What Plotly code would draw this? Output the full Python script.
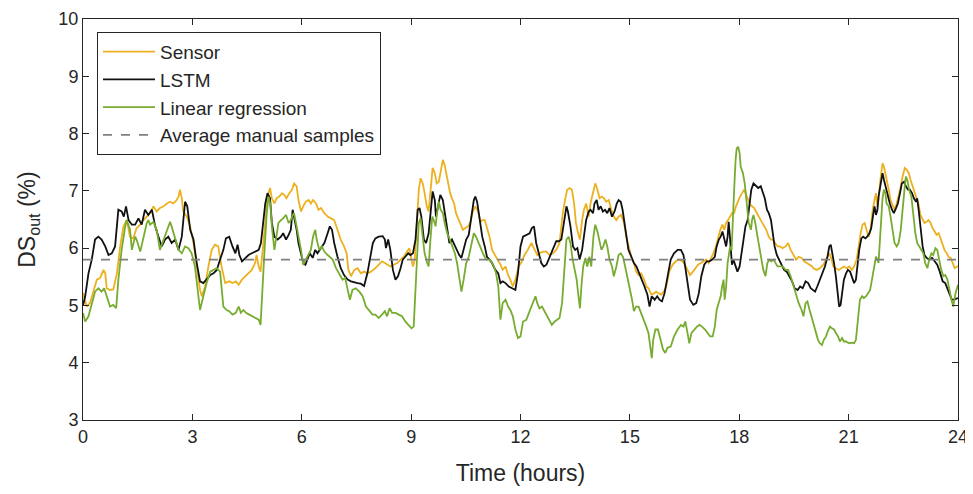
import plotly.graph_objects as go

# ---------------- data ----------------
t_sensor = [0, 0.10, 0.19, 0.29, 0.38, 0.47, 0.56, 0.61, 0.65, 0.74, 0.83, 0.93, 1.02, 1.11, 1.20, 1.29, 1.38, 1.47, 1.57, 1.66,
            1.75, 1.84, 1.93, 2.02, 2.11, 2.21, 2.30, 2.39, 2.48, 2.57, 2.62, 2.66, 2.71, 2.75, 2.85, 2.94, 3.03, 3.12, 3.21, 3.26,
            3.35, 3.44, 3.53, 3.62, 3.71, 3.80, 3.90,
            4.01, 4.10, 4.19, 4.27, 4.36, 4.45, 4.54, 4.63, 4.72, 4.76, 4.82, 4.87, 4.93, 5.00, 5.06, 5.13, 5.18, 5.25, 5.31, 5.38,
            5.46, 5.52, 5.58, 5.66, 5.73, 5.79, 5.86, 5.91, 5.98, 6.04, 6.11, 6.19, 6.25, 6.31, 6.39, 6.46, 6.53, 6.62, 6.71, 6.80,
            6.89, 6.98, 7.07, 7.16, 7.23, 7.28, 7.35, 7.44, 7.53, 7.62, 7.71, 7.80, 7.90,
            8.02, 8.11, 8.20, 8.28, 8.34, 8.43, 8.52, 8.62, 8.71, 8.80, 8.89, 8.95, 9.01, 9.05, 9.10, 9.15, 9.21, 9.26, 9.32, 9.37,
            9.43, 9.48, 9.54, 9.59, 9.65, 9.70, 9.76, 9.81, 9.87, 9.92, 9.96, 10.01, 10.07, 10.12, 10.18, 10.23, 10.29, 10.34, 10.42,
            10.49, 10.56, 10.63, 10.69, 10.76, 10.84, 10.90, 10.96, 11.02, 11.08, 11.15, 11.22, 11.29, 11.37, 11.45, 11.51, 11.59,
            11.66, 11.72, 11.79, 11.86, 11.95, 12.04,
            12.11, 12.20, 12.30, 12.39, 12.46, 12.52, 12.62, 12.71, 12.80, 12.89, 12.98, 13.07, 13.16, 13.23, 13.28, 13.35, 13.41,
            13.47, 13.52, 13.58, 13.63, 13.69, 13.74, 13.80, 13.87, 13.92, 13.99, 14.05, 14.11, 14.17, 14.23, 14.29, 14.35, 14.42,
            14.49, 14.56, 14.63, 14.69, 14.76, 14.84, 14.90, 14.96, 15.04, 15.11, 15.17, 15.24, 15.31, 15.39, 15.45, 15.51, 15.59,
            15.66, 15.72, 15.79, 15.86, 15.93, 16.00,
            16.08, 16.17, 16.26, 16.35, 16.44, 16.51, 16.58, 16.65, 16.73, 16.80, 16.87, 16.95, 17.02, 17.09, 17.16, 17.24, 17.29,
            17.36, 17.42, 17.48, 17.54, 17.59, 17.64, 17.70, 17.75, 17.80, 17.86, 17.91, 17.97, 18.02, 18.08, 18.13, 18.19, 18.24,
            18.30, 18.35, 18.41, 18.46, 18.52, 18.59, 18.66, 18.74, 18.81, 18.87, 18.92, 18.99, 19.05, 19.12, 19.19, 19.27, 19.34,
            19.41, 19.49, 19.56, 19.63, 19.71, 19.78, 19.85, 19.93, 20.00,
            20.03, 20.12, 20.21, 20.31, 20.40, 20.47, 20.52, 20.58, 20.65, 20.73, 20.80, 20.87, 20.95, 21.02, 21.09, 21.15, 21.22,
            21.27, 21.33, 21.38, 21.44, 21.49, 21.55, 21.60, 21.66, 21.71, 21.75, 21.79, 21.82, 21.86, 21.90, 21.93, 21.97, 22.01,
            22.04, 22.10, 22.15, 22.21, 22.26, 22.32, 22.37, 22.43, 22.48, 22.54, 22.59, 22.65, 22.70, 22.76, 22.81, 22.87, 22.92,
            22.97, 23.03, 23.08, 23.14, 23.19, 23.25, 23.30, 23.36, 23.41, 23.47, 23.52, 23.58, 23.63, 23.69, 23.74, 23.80, 23.85,
            23.91, 24.0]
v_sensor = [5.22, 4.98, 5.04, 5.27, 5.45, 5.48, 5.62, 5.56, 5.30, 5.27, 5.28, 5.56, 6.03, 6.38, 6.49, 6.20, 6.17, 6.35, 6.41, 6.49,
            6.55, 6.61, 6.73, 6.64, 6.70, 6.73, 6.78, 6.81, 6.78, 6.84, 6.90, 7.02, 6.87, 6.64, 6.55, 6.38, 6.09, 5.68, 5.27, 5.16,
            5.33, 5.68, 5.97, 6.06, 6.03, 5.68, 5.39,
            5.42, 5.39, 5.42, 5.36, 5.45, 5.51, 5.56, 5.62, 5.74, 5.88, 5.68, 5.59, 5.97, 6.55, 6.90, 7.05, 6.87, 6.78, 6.87, 6.90,
            6.96, 6.93, 6.87, 6.96, 7.02, 7.13, 7.08, 6.84, 6.64, 6.73, 6.81, 6.84, 6.78, 6.84, 6.78, 6.67, 6.70, 6.61, 6.55, 6.52,
            6.49, 6.32, 6.15, 6.03, 5.91, 5.62, 5.51, 5.62, 5.65, 5.56, 5.59, 5.56, 5.59,
            5.65, 5.71, 5.77, 5.74, 5.71, 5.68, 5.71, 5.74, 5.80, 5.85, 5.94, 6.00, 5.80, 5.68, 5.80, 6.44, 7.02, 7.22, 7.13, 6.96,
            6.73, 6.64, 7.08, 7.40, 7.31, 7.13, 7.16, 7.37, 7.54, 7.45, 7.31, 7.13, 6.96, 6.87, 6.78, 6.61, 6.52, 6.44, 6.32,
            6.35, 6.38, 6.46, 6.64, 6.73, 6.64, 6.46, 6.49, 6.49, 6.35, 6.20, 5.97, 5.88, 5.80, 5.71, 5.62, 5.68,
            5.53, 5.45, 5.33, 5.45, 5.68, 5.77,
            5.88, 5.97, 6.09, 5.97, 5.88, 5.91, 5.94, 5.94, 5.88, 5.91, 5.97, 6.09, 6.61, 6.87, 7.02, 7.05, 7.02,
            6.78, 6.44, 6.26, 6.15, 6.49, 6.67, 6.78, 6.55, 6.78, 6.96, 7.13, 7.02, 6.87, 6.90, 6.87, 6.81, 6.84,
            6.67, 6.55, 6.49, 6.55, 6.58, 6.44, 6.20, 6.03, 5.85, 5.74, 5.59, 5.53, 5.56, 5.45, 5.33, 5.30, 5.19,
            5.21, 5.24, 5.21, 5.19, 5.24, 5.33,
            5.59, 5.71, 5.77, 5.80, 5.77, 5.71, 5.62, 5.53, 5.59, 5.65, 5.71, 5.74, 5.77, 5.80, 5.74, 5.83, 5.91,
            6.03, 6.20, 6.32, 6.41, 6.32, 6.44, 6.49, 6.55, 6.61, 6.61, 6.73, 6.84, 6.90, 6.96, 7.02, 6.93, 6.84,
            6.76, 6.73, 6.70, 6.64, 6.58, 6.49, 6.41, 6.32, 6.20, 6.15, 6.15, 6.09, 6.03, 6.03, 6.00, 6.03, 6.09,
            5.97, 5.88, 5.80, 5.85, 5.83, 5.77, 5.74, 5.71, 5.68,
            5.65, 5.62, 5.65, 5.71, 5.83, 5.91, 5.83, 5.68, 5.65, 5.62, 5.65, 5.68, 5.65, 5.68, 5.62, 5.68, 5.80,
            6.03, 6.26, 6.41, 6.44, 6.32, 6.20, 6.32, 6.67, 6.84, 6.96, 6.73, 6.84, 7.13, 7.37, 7.48, 7.42, 7.31,
            7.19, 7.02, 6.84, 6.73, 6.67, 6.78, 6.90, 7.08, 7.25, 7.40, 7.37, 7.31, 7.19, 7.08, 6.96, 6.84, 6.76,
            6.58, 6.49, 6.44, 6.46, 6.49, 6.44, 6.35, 6.29, 6.23, 6.26, 6.17, 6.09, 5.97, 5.91, 5.85, 5.83, 5.74,
            5.65, 5.69]

t_lstm = [0, 0.06, 0.15, 0.24, 0.33, 0.42, 0.51, 0.61, 0.70, 0.79, 0.88, 0.97, 1.06, 1.12, 1.18, 1.25, 1.34, 1.43, 1.52, 1.61,
          1.70, 1.79, 1.89, 1.98, 2.07, 2.16, 2.25, 2.34, 2.43, 2.53, 2.62, 2.71, 2.80, 2.86, 2.94, 3.03, 3.12, 3.21, 3.30, 3.39,
          3.49, 3.58, 3.67, 3.76, 3.85,
          3.92, 4.01, 4.10, 4.18, 4.24, 4.29, 4.36, 4.45, 4.54, 4.63, 4.72, 4.82, 4.88, 4.94, 5.00, 5.06, 5.13, 5.18, 5.25, 5.34,
          5.43, 5.49, 5.57, 5.64, 5.70, 5.75, 5.79, 5.86, 5.91, 5.98, 6.04, 6.10, 6.16, 6.22, 6.30, 6.37, 6.43, 6.53, 6.62, 6.71,
          6.77, 6.83, 6.89, 6.98, 7.07, 7.16, 7.26, 7.35, 7.44, 7.53, 7.62, 7.71, 7.80, 7.88, 7.95,
          8.02, 8.11, 8.22, 8.28, 8.31, 8.37, 8.43, 8.50, 8.57, 8.64, 8.71, 8.77, 8.84, 8.92, 8.98, 9.05, 9.12, 9.18, 9.23, 9.28,
          9.35, 9.41, 9.48, 9.54, 9.59, 9.65, 9.68, 9.74, 9.80, 9.87, 9.92, 9.99, 10.05, 10.12, 10.20, 10.26, 10.32, 10.38, 10.44,
          10.51, 10.58, 10.65, 10.72, 10.76, 10.81, 10.87, 10.95, 11.02, 11.08, 11.15, 11.22, 11.31, 11.39, 11.45, 11.51, 11.59,
          11.68, 11.77, 11.86, 11.93, 12.00,
          12.07, 12.16, 12.25, 12.31, 12.37, 12.43, 12.50, 12.57, 12.64, 12.71, 12.77, 12.84, 12.92, 12.98, 13.05, 13.12, 13.19,
          13.26, 13.30, 13.37, 13.44, 13.50, 13.56, 13.62, 13.69, 13.74, 13.80, 13.87, 13.92, 13.99, 14.03, 14.09, 14.14, 14.20,
          14.26, 14.32, 14.38, 14.44, 14.51, 14.58, 14.64, 14.69, 14.75, 14.80, 14.86, 14.91, 14.96, 15.04, 15.11, 15.18, 15.26,
          15.33, 15.40, 15.48, 15.54, 15.60, 15.68, 15.75, 15.81, 15.88, 15.95,
          16.05, 16.12, 16.21, 16.31, 16.40, 16.47, 16.53, 16.60, 16.65, 16.74, 16.82, 16.89, 16.96, 17.04, 17.11, 17.18, 17.26,
          17.33, 17.38, 17.44, 17.49, 17.54, 17.59, 17.64, 17.68, 17.71, 17.75, 17.80, 17.84, 17.90, 17.95, 18.01, 18.06, 18.12,
          18.17, 18.23, 18.28, 18.33, 18.39, 18.45, 18.52, 18.59, 18.65, 18.70, 18.76, 18.81, 18.87, 18.92, 18.97, 19.03, 19.09,
          19.16, 19.23, 19.30, 19.38, 19.45, 19.52, 19.60, 19.67, 19.74, 19.82, 19.89, 19.96,
          20.01, 20.08, 20.14, 20.21, 20.29, 20.35, 20.42, 20.47, 20.51, 20.54, 20.60, 20.65, 20.71, 20.74, 20.78, 20.82, 20.87,
          20.93, 20.98, 21.04, 21.09, 21.15, 21.20, 21.24, 21.29, 21.35, 21.40, 21.46, 21.51, 21.57, 21.62, 21.68, 21.71, 21.75,
          21.79, 21.82, 21.86, 21.90, 21.93, 21.97, 22.01, 22.04, 22.08, 22.13, 22.19, 22.24, 22.30, 22.35, 22.41, 22.46, 22.52,
          22.57, 22.63, 22.68, 22.74, 22.79, 22.85, 22.88, 22.92, 22.97, 23.03, 23.08, 23.14, 23.21, 23.29, 23.36, 23.43, 23.50,
          23.58, 23.65, 23.72, 23.78, 23.83, 23.89, 24.0]
v_lstm = [5.00, 5.16, 5.56, 5.80, 6.15, 6.20, 6.15, 6.03, 5.88, 5.91, 6.03, 6.67, 6.64, 6.55, 6.73, 6.49, 6.41, 6.41, 6.52, 6.41,
          6.67, 6.58, 6.67, 6.38, 6.20, 6.03, 6.15, 6.20, 6.09, 6.15, 5.97, 6.20, 6.81, 6.73, 6.32, 6.15, 5.74, 5.42, 5.39, 5.45,
          5.53, 5.56, 5.62, 5.80, 5.97,
          6.17, 6.20, 6.03, 5.91, 6.06, 5.88, 5.77, 5.83, 5.88, 5.91, 5.94, 5.97, 6.09, 6.44, 6.78, 6.96, 6.87, 6.44, 6.20, 6.15,
          6.20, 6.26, 6.15, 6.23, 6.32, 6.67, 6.55, 6.32, 6.09, 5.88, 5.74, 5.71, 5.83, 5.91, 5.83, 5.97, 5.91, 6.00, 6.09, 6.26,
          6.38, 6.32, 6.09, 5.85, 5.65, 5.53, 5.45, 5.42, 5.40, 5.39, 5.38, 5.34, 5.56, 5.88, 6.09,
          6.17, 6.20, 6.21, 6.15, 6.00, 6.15, 5.97, 5.62, 5.45, 5.51, 5.65, 5.80, 5.85, 5.91, 5.88, 5.91, 6.15, 6.67, 6.70, 6.55,
          6.15, 6.09, 6.26, 6.73, 6.99, 6.84, 6.55, 6.73, 6.93, 6.84, 6.61, 6.32, 6.09, 6.15, 6.03, 5.97, 5.88, 5.83, 5.97,
          6.15, 6.23, 6.55, 6.84, 6.90, 6.81, 6.55, 6.20, 6.03, 5.85, 5.80, 5.74, 5.62, 5.56, 5.39, 5.42, 5.39,
          5.33, 5.30, 5.27, 5.56, 6.03,
          6.20, 6.23, 6.26, 6.35, 6.38, 6.09, 5.91, 5.74, 5.68, 5.71, 5.80, 5.91, 6.03, 6.12, 6.12, 6.15, 6.44,
          6.73, 6.64, 6.38, 6.03, 5.97, 6.00, 5.80, 5.97, 6.20, 6.49, 6.64, 6.67, 6.61, 6.78, 6.84, 6.67, 6.73,
          6.64, 6.67, 6.61, 6.70, 6.55, 6.64, 6.78, 6.84, 6.81, 6.67, 6.38, 6.15, 5.97, 5.85, 5.74, 5.68, 5.56,
          5.45, 5.33, 5.19, 4.98, 5.16, 5.10, 5.16, 5.10, 5.07, 5.21,
          5.56, 5.80, 5.91, 5.97, 5.97, 5.88, 5.62, 5.27, 5.10, 5.01, 5.04, 5.21, 5.51, 5.71, 5.77, 5.77, 5.80,
          5.85, 6.03, 6.15, 6.20, 6.29, 6.15, 6.03, 6.20, 6.46, 6.15, 5.71, 5.80, 5.68, 5.59, 5.68, 5.91, 6.20,
          6.38, 6.49, 6.73, 7.02, 7.13, 7.10, 7.05, 7.08, 6.96, 6.87, 6.67, 6.61, 6.49, 6.26, 6.03, 5.88, 5.80,
          5.71, 5.62, 5.59, 5.51, 5.42, 5.30, 5.27, 5.33, 5.30, 5.42, 5.39, 5.30,
          5.27, 5.24, 5.33, 5.45, 5.56, 5.68, 5.85, 6.03, 6.06, 5.97, 5.74, 5.51, 5.21, 4.98, 5.01, 5.21, 5.45,
          5.56, 5.62, 5.59, 5.51, 5.39, 5.45, 5.68, 5.97, 6.17, 6.20, 6.17, 6.20, 6.26, 6.35, 6.61, 6.73, 6.58,
          6.67, 6.90, 7.08, 7.25, 7.31, 7.19, 7.08, 7.02, 6.90, 6.78, 6.67, 6.61, 6.70, 6.78, 6.96, 7.13, 7.16,
          7.08, 7.02, 7.02, 6.96, 6.87, 6.81, 6.87, 6.67, 6.32, 6.03, 5.88, 5.83, 5.80, 5.83, 5.77, 5.71, 5.59,
          5.42, 5.39, 5.27, 5.16, 5.10, 5.10, 5.13]

t_linreg = [0, 0.06, 0.15, 0.24, 0.33, 0.42, 0.51, 0.58, 0.65, 0.74, 0.83, 0.91, 0.97, 1.06, 1.15, 1.20, 1.29, 1.34, 1.43, 1.47,
            1.57, 1.66, 1.75, 1.79, 1.84, 1.93, 2.02, 2.11, 2.21, 2.30, 2.39, 2.43, 2.53, 2.62, 2.71, 2.80, 2.89, 2.98, 3.07, 3.17,
            3.21, 3.30, 3.39, 3.49, 3.58, 3.67, 3.76, 3.85, 3.94,
            4.01, 4.10, 4.19, 4.27, 4.33, 4.40, 4.47, 4.56, 4.65, 4.74, 4.82, 4.87, 4.93, 4.98, 5.04, 5.09, 5.14, 5.18, 5.25, 5.29,
            5.36, 5.43, 5.49, 5.57, 5.64, 5.70, 5.75, 5.79, 5.86, 5.91, 5.98, 6.04, 6.11, 6.19, 6.25, 6.31, 6.37, 6.41, 6.48, 6.55,
            6.62, 6.71, 6.77, 6.85, 6.94, 7.03, 7.12, 7.19, 7.26, 7.32, 7.39, 7.48, 7.58, 7.67, 7.76, 7.85, 7.94,
            8.02, 8.11, 8.20, 8.28, 8.34, 8.41, 8.48, 8.57, 8.66, 8.75, 8.84, 8.94, 9.01, 9.07, 9.12, 9.16, 9.21, 9.26, 9.30, 9.37,
            9.44, 9.48, 9.53, 9.58, 9.62, 9.67, 9.71, 9.76, 9.81, 9.87, 9.92, 9.99, 10.05, 10.12, 10.20, 10.26, 10.32, 10.38, 10.44,
            10.51, 10.58, 10.65, 10.72, 10.78, 10.86, 10.93, 10.99, 11.06, 11.13, 11.20, 11.27, 11.33, 11.39, 11.45, 11.51, 11.59,
            11.66, 11.72, 11.79, 11.86, 11.93, 12.00,
            12.07, 12.16, 12.25, 12.34, 12.41, 12.46, 12.52, 12.59, 12.66, 12.73, 12.80, 12.86, 12.94, 13.01, 13.07, 13.14, 13.21,
            13.26, 13.32, 13.37, 13.43, 13.48, 13.54, 13.59, 13.63, 13.67, 13.72, 13.78, 13.83, 13.89, 13.94, 14.00, 14.05, 14.11,
            14.16, 14.22, 14.27, 14.33, 14.38, 14.44, 14.51, 14.56, 14.63, 14.69, 14.75, 14.81, 14.87, 14.93, 14.99, 15.06, 15.11,
            15.17, 15.24, 15.31, 15.39, 15.45, 15.51, 15.57, 15.60, 15.64, 15.70, 15.77, 15.84, 15.91, 15.97,
            16.03, 16.12, 16.21, 16.31, 16.40, 16.47, 16.52, 16.58, 16.63, 16.69, 16.76, 16.84, 16.91, 16.98, 17.06, 17.13, 17.20,
            17.27, 17.33, 17.38, 17.44, 17.49, 17.53, 17.57, 17.60, 17.64, 17.68, 17.71, 17.75, 17.79, 17.82, 17.86, 17.90, 17.93,
            17.97, 18.01, 18.04, 18.10, 18.15, 18.21, 18.26, 18.32, 18.35, 18.39, 18.44, 18.50, 18.55, 18.61, 18.66, 18.72, 18.77,
            18.83, 18.88, 18.94, 18.99, 19.05, 19.12, 19.19, 19.27, 19.34, 19.41, 19.49, 19.56, 19.63, 19.71, 19.76, 19.82, 19.87,
            19.93, 20.00,
            20.05, 20.10, 20.16, 20.21, 20.27, 20.32, 20.38, 20.43, 20.49, 20.54, 20.60, 20.65, 20.71, 20.76, 20.82, 20.87, 20.93,
            20.98, 21.04, 21.09, 21.15, 21.20, 21.26, 21.31, 21.37, 21.42, 21.48, 21.53, 21.59, 21.64, 21.70, 21.75, 21.79, 21.82,
            21.86, 21.90, 21.93, 21.97, 22.01, 22.04, 22.10, 22.15, 22.21, 22.26, 22.32, 22.37, 22.43, 22.48, 22.54, 22.57, 22.61,
            22.66, 22.72, 22.77, 22.83, 22.88, 22.94, 22.99, 23.05, 23.10, 23.16, 23.21, 23.27, 23.32, 23.38, 23.43, 23.49, 23.54,
            23.60, 23.65, 23.71, 23.76, 23.82, 23.87, 23.93, 24.0]
v_linreg = [4.87, 4.72, 4.81, 5.04, 5.24, 5.30, 5.24, 5.30, 5.16, 4.98, 5.01, 4.95, 5.45, 5.97, 6.35, 6.49, 6.32, 5.97, 6.20, 6.15,
            5.94, 6.20, 6.44, 6.49, 6.41, 6.46, 6.32, 5.97, 6.15, 6.32, 6.46, 6.38, 6.15, 5.97, 5.91, 6.03, 6.00, 5.91, 5.68, 5.16,
            4.92, 5.16, 5.39, 5.59, 5.62, 5.65, 5.59, 4.98, 4.92,
            4.90, 4.84, 4.87, 4.98, 4.87, 4.92, 4.87, 4.84, 4.81, 4.78, 4.75, 4.66, 5.27, 5.97, 6.61, 6.90, 6.76, 6.38, 5.97, 6.15,
            6.44, 6.49, 6.52, 6.58, 6.44, 6.49, 6.58, 6.61, 6.38, 6.15, 5.97, 5.71, 5.80, 5.91, 5.97, 6.20, 6.32, 6.15, 5.97, 6.03,
            5.94, 5.88, 5.85, 5.80, 5.65, 5.56, 5.45, 5.48, 5.27, 5.10, 5.27, 5.30, 5.24, 5.16, 4.98, 4.90, 4.84,
            4.84, 4.78, 4.84, 4.90, 4.81, 4.95, 4.87, 4.87, 4.84, 4.81, 4.72, 4.66, 4.60, 4.63, 5.27, 6.03, 6.44, 6.52, 6.26, 5.91,
            5.74, 5.68, 6.15, 6.55, 6.49, 6.38, 6.61, 6.81, 6.67, 6.61, 6.44, 6.26, 6.17, 6.03, 5.91, 5.74, 5.45, 5.24, 5.45,
            5.74, 5.85, 6.09, 6.26, 6.20, 6.09, 5.97, 5.88, 5.80, 5.80, 5.77, 5.68, 5.56, 5.33, 4.75, 5.04, 5.10,
            4.98, 4.92, 4.81, 4.58, 4.43, 4.46,
            4.72, 4.75, 4.90, 5.04, 5.16, 5.04, 4.95, 4.98, 4.90, 4.81, 4.72, 4.66, 4.72, 4.75, 4.78, 5.04, 5.68,
            6.15, 6.20, 6.09, 5.80, 5.62, 5.45, 5.16, 4.95, 5.33, 5.68, 5.83, 5.68, 5.85, 5.68, 6.20, 6.41, 6.29,
            6.15, 5.97, 6.03, 6.15, 6.03, 5.80, 5.68, 5.51, 5.68, 5.88, 5.91, 5.85, 5.68, 5.51, 5.33, 5.10, 4.90,
            4.98, 4.98, 4.87, 4.72, 4.63, 4.52, 4.23, 4.08, 4.40, 4.58, 4.58, 4.40, 4.23, 4.17,
            4.26, 4.28, 4.46, 4.58, 4.66, 4.63, 4.72, 4.52, 4.34, 4.52, 4.58, 4.63, 4.66, 4.63, 4.58, 4.52, 4.46,
            4.46, 4.63, 4.92, 5.04, 5.16, 5.33, 5.45, 5.10, 5.33, 5.74, 5.85, 6.03, 5.97, 6.32, 7.02, 7.54, 7.74,
            7.77, 7.66, 7.42, 7.31, 7.13, 6.78, 6.44, 6.32, 6.49, 6.58, 6.44, 6.20, 6.03, 5.85, 5.62, 5.51, 5.74,
            5.80, 5.77, 5.80, 5.74, 5.68, 5.68, 5.68, 5.62, 5.62, 5.51, 5.33, 5.16, 5.04, 4.92, 4.81, 5.04, 5.07,
            4.92, 4.75,
            4.63, 4.52, 4.40, 4.34, 4.31, 4.40, 4.46, 4.55, 4.63, 4.60, 4.58, 4.52, 4.46, 4.37, 4.43, 4.37, 4.37,
            4.35, 4.34, 4.35, 4.34, 4.40, 4.75, 5.10, 5.16, 5.13, 5.16, 5.21, 5.27, 5.45, 5.68, 5.85, 5.80, 5.74,
            6.15, 6.55, 6.87, 7.02, 6.96, 6.78, 6.73, 6.55, 6.32, 6.09, 6.03, 6.09, 6.32, 6.73, 7.08, 7.25, 7.19,
            7.02, 6.90, 6.61, 6.26, 6.09, 6.03, 5.97, 5.91, 5.74, 5.65, 5.80, 5.91, 5.88, 6.00, 5.97, 5.80, 5.62,
            5.51, 5.53, 5.45, 5.27, 5.10, 4.98, 5.21, 5.36]

avg_manual = 5.8
x_ticks = [0, 3, 6, 9, 12, 15, 18, 21, 24]
y_ticks = [3, 4, 5, 6, 7, 8, 9, 10]

# ---------------- figure ----------------
FONT = "Liberation Sans, Arial, sans-serif"
AX = "#262626"

fig = go.Figure()
fig.add_trace(go.Scatter(x=t_sensor, y=v_sensor, mode="lines", name="Sensor",
                         line=dict(color="#EDB120", width=1.8)))
fig.add_trace(go.Scatter(x=t_lstm, y=v_lstm, mode="lines", name="LSTM",
                         line=dict(color="#111111", width=1.8)))
fig.add_trace(go.Scatter(x=t_linreg, y=v_linreg, mode="lines", name="Linear regression",
                         line=dict(color="#77AC30", width=1.8)))
fig.add_trace(go.Scatter(x=[x_ticks[0], x_ticks[-1]], y=[avg_manual, avg_manual], mode="lines",
                         name="Average manual samples",
                         line=dict(color="#808080", width=1.8, dash="dash")))

axis_common = dict(showline=True, linecolor=AX, linewidth=1, mirror="ticks", ticks="inside",
                   ticklen=6, tickcolor=AX, showgrid=False, zeroline=False, automargin=False,
                   tickfont=dict(family=FONT, size=18, color=AX))

# the page body adds an 8 px offset, so the figure is 8 px smaller than the window
fig.update_layout(
    width=965, height=486,
    margin=dict(l=75, r=15, t=11, b=74),
    paper_bgcolor="white", plot_bgcolor="white",
    font=dict(family=FONT, color=AX),
    xaxis=dict(range=[0, 24], tickvals=x_ticks,
               title=dict(text="Time (hours)", font=dict(family=FONT, size=23, color=AX), standoff=19),
               **axis_common),
    yaxis=dict(range=[3, 10], tickvals=y_ticks,
               title=dict(text="DS<sub>out</sub> (%)", font=dict(family=FONT, size=23, color=AX), standoff=16),
               **axis_common),
    legend=dict(x=0.016, y=0.968, xanchor="left", yanchor="top",
                bgcolor="white", bordercolor=AX, borderwidth=1,
                font=dict(family=FONT, size=19, color=AX), tracegroupgap=0,
                itemwidth=52),
    showlegend=True,
)

fig.write_html("out.html")
